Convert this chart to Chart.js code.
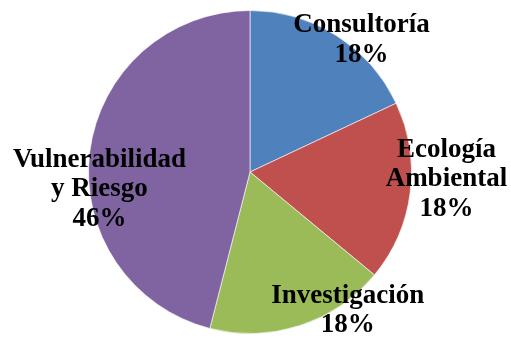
<!DOCTYPE html>
<html>
<head>
<meta charset="utf-8">
<script src="https://cdn.jsdelivr.net/npm/chart.js@4"></script>
<style>
  html, body { margin: 0; padding: 0; background: #fff; }
  #wrap { width: 511px; height: 340px; position: relative; }
</style>
</head>
<body>
<div id="wrap"><canvas id="areasChart"></canvas></div>
<script>
// Areas and their share (%)
const categories = ["Consultoría", "Ecología Ambiental", "Investigación", "Vulnerabilidad y Riesgo"];
const shares = [18, 18, 18, 46];
const sliceColors = ["#4F81BD", "#C0504D", "#9BBB59", "#8064A2"];

// How each label wraps onto lines
const labelLines = [
    ["Consultoría"],
    ["Ecología", "Ambiental"],
    ["Investigación"],
    ["Vulnerabilidad", "y Riesgo"]
];

// Where each label block sits, relative to the pie centre, in radii
const labelOffsets = [
    [0.691, -0.864],
    [1.216, -0.093],
    [0.605, 0.809],
    [-0.932, -0.031]
];

const labelFont = 'bold 27px "Liberation Serif", "Times New Roman", serif';

const sliceLabels = {
    id: "sliceLabels",
    afterDraw(chart) {
        const ctx = chart.ctx;
        const arcs = chart.getDatasetMeta(0).data;
        ctx.save();
        ctx.font = labelFont;
        ctx.fillStyle = "#000";
        ctx.textAlign = "center";
        ctx.textBaseline = "alphabetic";
        arcs.forEach((arc, i) => {
            const r = arc.outerRadius;
            const x = arc.x + labelOffsets[i][0] * r;
            let y = arc.y + labelOffsets[i][1] * r;
            const lines = labelLines[i].concat([shares[i] + "%"]);
            lines.forEach((line) => {
                ctx.fillText(line, x, y);
                y += 29.5;
            });
        });
        ctx.restore();
    }
};

new Chart(document.getElementById("areasChart"), {
    type: "pie",
    data: {
        labels: categories,
        datasets: [{
            data: shares,
            backgroundColor: sliceColors,
            borderColor: "rgba(255,255,255,0.6)",
            borderWidth: 1
        }]
    },
    options: {
        responsive: true,
        maintainAspectRatio: false,
        animation: false,
        layout: {
            padding: { top: 10, bottom: 6, left: 0, right: 11 }
        },
        plugins: {
            legend: { display: false },
            tooltip: { enabled: false }
        }
    },
    plugins: [sliceLabels]
});
</script>
</body>
</html>
